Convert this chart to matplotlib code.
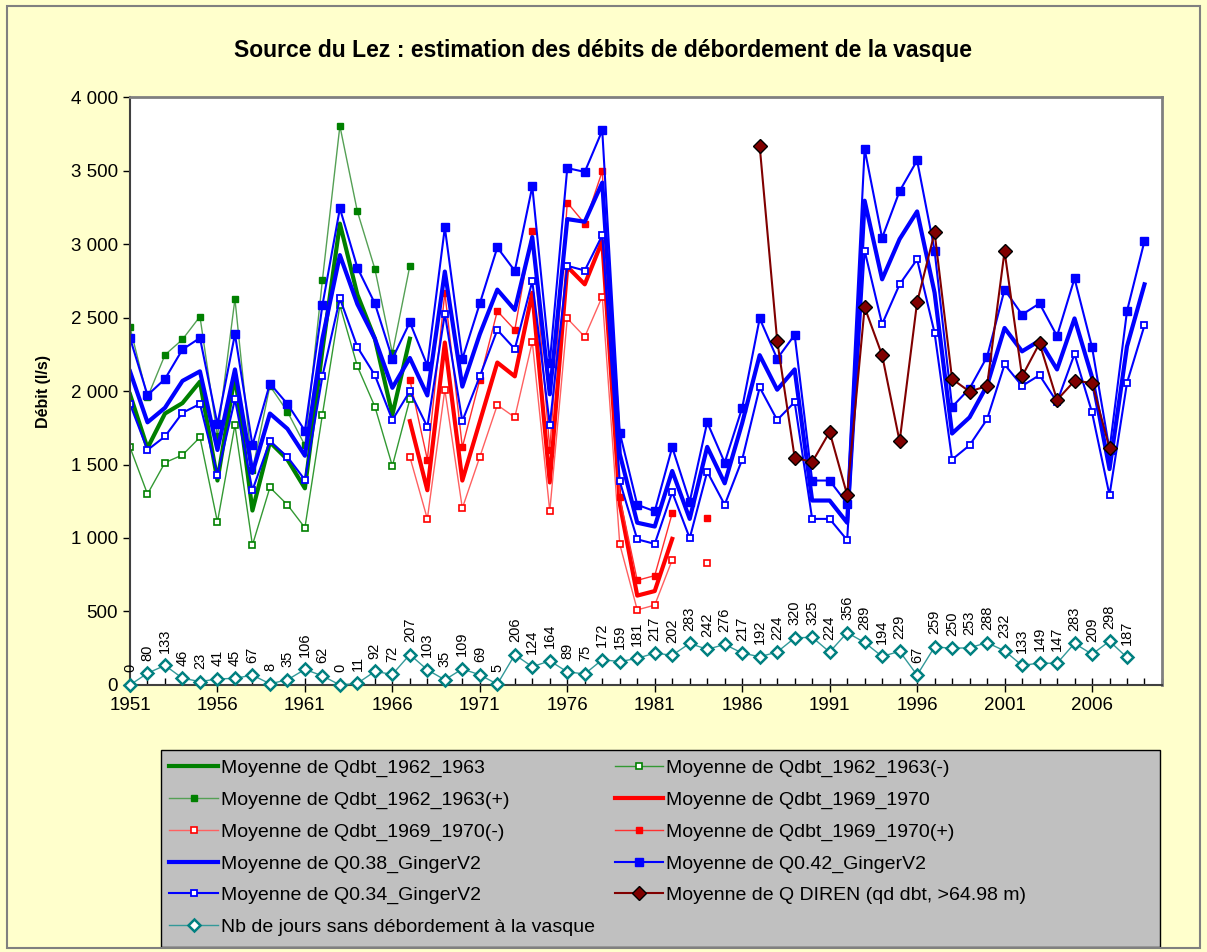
import numpy as np
import matplotlib
matplotlib.use('Agg')
import matplotlib.pyplot as plt
from matplotlib.ticker import FuncFormatter, MultipleLocator
from matplotlib.patches import Rectangle

plt.rcParams['font.family'] = ['Liberation Sans', 'DejaVu Sans']

# Q Ginger V2 series, 1951-2009
gingers_start = 1951
q042 = [2361, 1972, 2082, 2283, 2361, 1774, 2387, 1631, 2051, 1912,
        1730, 2583, 3243, 2839, 2596, 2220, 2468, 2173, 3113, 2218,
        2596, 2977, 2818, 3392, 2194, 3517, 3491, 3773, 1717, 1226,
        1182, 1618, 1247, 1787, 1513, 1886, 2494, 2220, 2382, 1391,
        1391, 1234, 3647, 3042, 3360, 3569, 2956, 1892, 2017, 2233,
        2690, 2520, 2596, 2374, 2766, 2299, 1600, 2544, 3021]
q038 = [2134, 1787, 1886, 2069, 2134, 1599, 2147, 1443, 1847, 1743,
        1560, 2356, 2925, 2591, 2356, 2022, 2225, 1970, 2813, 2030,
        2387, 2690, 2552, 3047, 1978, 3170, 3152, 3418, 1573, 1104,
        1078, 1456, 1130, 1620, 1372, 1782, 2244, 2009, 2147, 1255,
        1255, 1104, 3295, 2760, 3034, 3222, 2669, 1711, 1821, 2038,
        2429, 2270, 2343, 2147, 2494, 2095, 1469, 2304, 2726]
q034 = [1912, 1599, 1691, 1852, 1912, 1430, 1944, 1325, 1659, 1552,
        1396, 2100, 2630, 2299, 2108, 1803, 1999, 1756, 2526, 1795,
        2100, 2416, 2286, 2747, 1769, 2852, 2820, 3060, 1385, 991,
        960, 1312, 999, 1451, 1226, 1534, 2025, 1803, 1925, 1130,
        1130, 986, 2956, 2455, 2726, 2896, 2395, 1534, 1631, 1808,
        2181, 2035, 2108, 1925, 2252, 1855, 1291, 2056, 2447]

# Qdbt_1962_1963, 1951-1967
green_start = 1951
qd6263 = [1978, 1612, 1847, 1918, 2064, 1391, 2108, 1187, 1652, 1534,
          1338, 2278, 3139, 2656, 2356, 1839, 2356]
qd6263_plus = [2434, 1957, 2246, 2351, 2507, 1691, 2627, 1461, 2035, 1860,
               1631, 2755, 3804, 3222, 2831, 2257, 2852]
qd6263_minus = [1618, 1299, 1513, 1565, 1685, 1109, 1769, 952, 1344, 1226,
                1070, 1839, 2583, 2168, 1894, 1490, 1944]

# Qdbt_1969_1970, 1967-1984
red_start = 1967
qd6970 = [1795, 1325, 2330, 1391, 1792, 2194, 2100, 2669, 1378, 2846,
          2726, 3021, 1234, 608, 639, 994, np.nan, np.nan]
qd6970_plus = [2077, 1534, 2669, 1618, 2077, 2544, 2416, 3092, 1599, 3282,
               3139, 3496, 1278, 712, 744, 1169, np.nan, 1138]
qd6970_minus = [1552, 1130, 2009, 1203, 1552, 1905, 1821, 2335, 1182, 2494,
                2369, 2643, 958, 511, 543, 851, np.nan, 830]

# Q DIREN, 1987-2007
diren_start = 1987
q_diren = [3668, 2343, 1547, 1516, 1722, 1294, 2570, 2244, 1657, 2604,
           3079, 2082, 1996, 2035, 2951, 2100, 2325, 1939, 2069, 2056, 1612]

# Nb de jours sans debordement, 1951-2008
days_start = 1951
nb_jours = [0, 80, 133, 46, 23, 41, 45, 67, 8, 35, 106, 62, 0, 11, 92, 72,
            207, 103, 35, 109, 69, 5, 206, 124, 164, 89, 75, 172, 159, 181,
            217, 202, 283, 242, 276, 217, 192, 224, 320, 325, 224, 356, 289,
            194, 229, 67, 259, 250, 253, 288, 232, 133, 149, 147, 283, 209,
            298, 187]

year_labels = list(range(1951, 2010, 5))


def yrs(start, vals):
    return np.arange(start, start + len(vals))


fig = plt.figure(figsize=(12.07, 9.52), dpi=100, facecolor='#FFFFCC')
fig.patches.append(Rectangle((0.006, 0.004), 0.988, 0.99, transform=fig.transFigure,
                             fill=False, edgecolor='#808080', lw=1.5))
ax = fig.add_axes([0.1077, 0.2805, 0.855, 0.6175])
ax.set_facecolor('white')

h = {}
h['g'], = ax.plot(yrs(green_start, qd6263), qd6263, color='#008000', lw=3,
                  label='Moyenne de Qdbt_1962_1963')
h['gm'], = ax.plot(yrs(green_start, qd6263_minus), qd6263_minus, color='#339933', lw=1,
                   marker='s', ms=4.5, mfc='white', mec='#008000', mew=1.2,
                   label='Moyenne de Qdbt_1962_1963(-)')
h['gp'], = ax.plot(yrs(green_start, qd6263_plus), qd6263_plus, color='#55A055', lw=1,
                   marker='s', ms=5, mfc='#008000', mec='#008000',
                   label='Moyenne de Qdbt_1962_1963(+)')
h['r'], = ax.plot(yrs(red_start, qd6970), qd6970, color='#FF0000', lw=3,
                  label='Moyenne de Qdbt_1969_1970')
h['rm'], = ax.plot(yrs(red_start, qd6970_minus), qd6970_minus, color='#FF6060', lw=1,
                   marker='s', ms=4.5, mfc='white', mec='#FF0000', mew=1.2,
                   label='Moyenne de Qdbt_1969_1970(-)')
h['rp'], = ax.plot(yrs(red_start, qd6970_plus), qd6970_plus, color='#FF3030', lw=1,
                   marker='s', ms=5, mfc='#FF0000', mec='#FF0000',
                   label='Moyenne de Qdbt_1969_1970(+)')
h['b38'], = ax.plot(yrs(gingers_start, q038), q038, color='#0000FF', lw=3,
                    label='Moyenne de Q0.38_GingerV2')
h['b42'], = ax.plot(yrs(gingers_start, q042), q042, color='#0000FF', lw=1.5,
                    marker='s', ms=5.5, mfc='#0000FF', mec='#0000FF',
                    label='Moyenne de Q0.42_GingerV2')
h['b34'], = ax.plot(yrs(gingers_start, q034), q034, color='#0000FF', lw=1.5,
                    marker='s', ms=5, mfc='white', mec='#0000FF', mew=1.3,
                    label='Moyenne de Q0.34_GingerV2')
h['d'], = ax.plot(yrs(diren_start, q_diren), q_diren, color='#800000', lw=1.5,
                  marker='D', ms=7, mfc='#800000', mec='black', mew=1,
                  label='Moyenne de Q DIREN (qd dbt, >64.98 m)')
xd = yrs(days_start, nb_jours)
h['t'], = ax.plot(xd, nb_jours, color='#339999', lw=1,
                  marker='D', ms=6.5, mfc='white', mec='#008080', mew=1.8,
                  label='Nb de jours sans débordement à la vasque', clip_on=False, zorder=5)
for x, v in zip(xd, nb_jours):
    ax.annotate(str(v), (x, v), xytext=(0, 9), textcoords='offset points',
                rotation=90, ha='center', va='bottom', fontsize=10.5)

ax.set_xlim(1951, 2010)
ax.set_ylim(0, 4000)
ax.set_xticks(year_labels)
ax.xaxis.set_minor_locator(MultipleLocator(1))
ax.yaxis.set_major_locator(MultipleLocator(500))
ax.yaxis.set_major_formatter(FuncFormatter(lambda v, p: f'{int(v):,}'.replace(',', ' ')))
ax.tick_params(axis='x', which='major', direction='inout', length=10, width=1,
               labelsize=13.5, pad=4)
ax.tick_params(axis='x', which='minor', direction='in', length=5, width=1)
ax.tick_params(axis='y', direction='out', length=5, width=1, labelsize=13.5)
for s in ['left', 'bottom']:
    ax.spines[s].set_color('#404040')
    ax.spines[s].set_linewidth(1.5)
for s in ['top', 'right']:
    ax.spines[s].set_color('#808080')
    ax.spines[s].set_linewidth(2)

ax.set_ylabel('Débit (l/s)', fontsize=11.5, fontweight='bold', labelpad=14)
fig.text(0.5, 0.947, 'Source du Lez : estimation des débits de débordement de la vasque',
         ha='center', va='center', fontsize=16.5, fontweight='bold')

# legend: grey box drawn by hand, two columns placed separately
fig.patches.append(Rectangle((0.1334, 0.0053), 0.8277, 0.2069, transform=fig.transFigure,
                             facecolor='#C0C0C0', edgecolor='black', lw=1, zorder=0))
col1 = ['g', 'gp', 'rm', 'b38', 'b34', 't']
col2 = ['gm', 'r', 'rp', 'b42', 'd']
for keys, x0 in [(col1, 0.1355), (col2, 0.5045)]:
    lg = fig.legend([h[k] for k in keys], [h[k].get_label() for k in keys],
                    loc='upper left', bbox_to_anchor=(x0, 0.2085), borderaxespad=0,
                    fontsize=14, frameon=False, handlelength=2.5, handletextpad=0.15,
                    labelspacing=0.72, borderpad=0.3)

fig.savefig('out.png', dpi=100, facecolor=fig.get_facecolor())
